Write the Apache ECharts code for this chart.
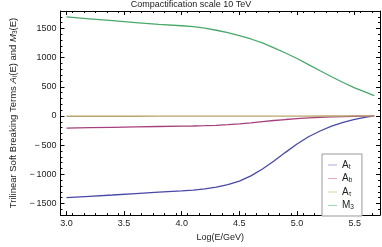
<!DOCTYPE html>
<html><head><meta charset="utf-8">
<script src="https://cdn.jsdelivr.net/npm/echarts@6/dist/echarts.min.js"></script>
<style>html,body{margin:0;padding:0;background:#fff}#c{width:382px;height:247px}</style>
</head><body><div id="c"></div>
<script>
const logE = [3.0, 3.2, 3.4, 3.6, 3.8, 4.0, 4.1, 4.2, 4.3, 4.4, 4.5, 4.6, 4.7, 4.8, 4.9, 5.0, 5.1, 5.2, 5.3, 5.4, 5.5, 5.6, 5.67];
const At   = [-1400, -1378, -1355, -1330, -1305, -1283, -1271, -1252, -1222, -1177, -1118, -1028, -910, -772, -624, -480, -357, -258, -175, -108, -58, -20, 0];
const Ab   = [-207, -200, -194, -188, -181, -175, -172, -167, -160, -150, -137, -119, -98, -78, -61, -46, -34, -24, -16, -10, -5, -2, 0];
const Atau = [-5, -5, -5, -5, -4, -4, -4, -4, -4, -4, -3, -3, -3, -3, -2, -2, -2, -1, -1, -1, 0, 0, 0];
const M3   = [1698, 1666, 1634, 1602, 1570, 1547, 1531, 1505, 1470, 1428, 1378, 1320, 1252, 1168, 1080, 985, 880, 775, 673, 574, 482, 405, 350];
const xTicks = [3.0, 3.5, 4.0, 4.5, 5.0, 5.5];
const yTicks = [-1500, -1000, -500, 0, 500, 1000, 1500];
const seriesNames = ['A_t', 'A_b', 'A_tau', 'M_3'];

const colors = ['#4848a6', '#a6407c', '#b8a66a', '#4aa86a'];
const lightColors = ['#a8a8e0', '#e8a8c8', '#dcd0a0', '#a0d8b0'];

const xMinorTicks = [], yMinorTicks = [];
for (let i = 0; i <= 27; i++) xMinorTicks.push(+(2.95 + i * 0.1).toFixed(2));
for (let i = 0; i <= 35; i++) yMinorTicks.push(-1700 + i * 100);
const xMin = 2.948, xMax = 5.72, yMin = -1700, yMax = 1800;

const font = 'Liberation Sans, Arial, sans-serif';
const tc = '#222';
function xAx(pos, major, labels, line, name) {
  return {
    type: 'value', position: pos, min: xMin, max: xMax,
    axisLine: {show: line, onZero: false, lineStyle: {color: '#000', width: 1}},
    axisTick: {show: true, inside: true, length: major ? 4 : 2, lineStyle: {color: '#000', width: 1},
      customValues: major ? xTicks : xMinorTicks},
    axisLabel: {show: labels, customValues: xTicks, margin: 4, fontSize: 9, color: tc, fontFamily: font,
      formatter: v => v.toFixed(1)},
    splitLine: {show: false},
    name: name || '', nameLocation: 'middle', nameGap: 17,
    nameTextStyle: {fontSize: 9, color: tc, fontFamily: font}
  };
}
function yAx(pos, major, labels, line, name) {
  return {
    type: 'value', position: pos, min: yMin, max: yMax,
    axisLine: {show: line, onZero: false, lineStyle: {color: '#000', width: 1}},
    axisTick: {show: true, inside: true, length: major ? 4 : 2, lineStyle: {color: '#000', width: 1},
      customValues: major ? yTicks : yMinorTicks},
    axisLabel: {show: labels, customValues: yTicks, margin: 4, fontSize: 9, color: tc, fontFamily: font,
      formatter: v => v < 0 ? '\u2212\u2009' + Math.abs(v) : String(v)},
    splitLine: {show: false},
    name: name || '', nameLocation: 'middle', nameGap: 34, nameRotate: 90,
    nameTextStyle: {fontSize: 9.5, color: tc, fontFamily: font,
      rich: {
        n: {fontSize: 9.5, color: tc, fontFamily: font},
        i: {fontSize: 9.5, color: tc, fontFamily: font, fontStyle: 'italic'},
        s: {fontSize: 6.5, color: tc, fontFamily: font, padding: [4, 0, 0, 0]}
      }}
  };
}

const legendLabels = {
  'A_t': '{a|A}{s|t}', 'A_b': '{a|A}{s|b}', 'A_tau': '{a|A}{s|τ}', 'M_3': '{a|M}{s|3}'
};

const chart = echarts.init(document.getElementById('c'), null, {renderer: 'canvas'});
chart.setOption({
  animation: false,
  backgroundColor: '#fff',
  title: {text: 'Compactification scale 10 TeV', left: 191, top: 0, padding: 0, textAlign: 'center',
    textStyle: {fontSize: 9, fontWeight: 'normal', color: tc, fontFamily: font}},
  grid: {left: 46, right: 2, top: 11, bottom: 28, containLabel: false},
  xAxis: [
    xAx('bottom', true, true, true, 'Log(E/GeV)'),
    xAx('bottom', false, false, false),
    xAx('top', true, false, true),
    xAx('top', false, false, false)
  ],
  yAxis: [
    yAx('left', true, true, true, '{n|Trilinear Soft Breaking Terms }{i|A}{s|i}{n|(E) and }{i|M}{s|3}{n|(E)}'),
    yAx('left', false, false, false),
    yAx('right', true, false, true),
    yAx('right', false, false, false)
  ],
  legend: {
    orient: 'vertical', left: 322, top: 154, width: 39,
    padding: [6, 8, 5, 6], itemGap: 3, itemWidth: 9, itemHeight: 1, icon: 'rect',
    backgroundColor: '#fff', borderColor: '#999', borderWidth: 1,
    formatter: n => legendLabels[n],
    textStyle: {fontSize: 10, color: tc, fontFamily: font,
      rich: {a: {fontSize: 10, color: tc, fontFamily: font}, s: {fontSize: 6.5, color: tc, fontFamily: font, padding: [4, 0, 0, 0]}}},
    data: seriesNames.map((n, i) => ({name: n, itemStyle: {color: lightColors[i]}}))
  },
  series: [At, Ab, Atau, M3].map((arr, i) => ({
    name: seriesNames[i], type: 'line', showSymbol: false, symbol: 'none',
    xAxisIndex: 0, yAxisIndex: 0,
    lineStyle: {color: colors[i], width: 1.3}, itemStyle: {color: colors[i]},
    data: logE.map((x, j) => [x, arr[j]]), smooth: false
  }))
});
</script></body></html>
